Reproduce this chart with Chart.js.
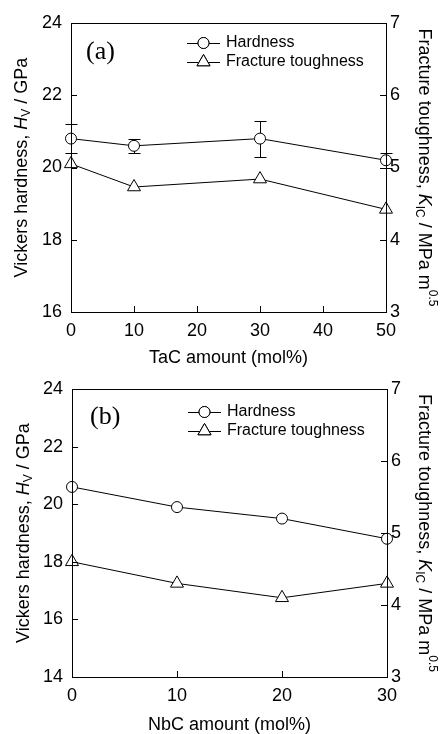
<!DOCTYPE html>
<html><head><meta charset="utf-8">
<script src="https://cdn.jsdelivr.net/npm/chart.js@4.4.1/dist/chart.umd.min.js"></script>
<style>body{margin:0;background:#fff}canvas{display:block}</style>
</head><body>
<canvas id="chart-a" width="441" height="367"></canvas>
<canvas id="chart-b" width="441" height="367"></canvas>
<script>
// ---- Data ----
const tacAmount = [0, 10, 30, 50];
const hardnessA = [20.8, 20.6, 20.8, 20.2];
const hardnessErrA = [0.4, 0.2, 0.5, 0.2];
const toughnessA = [5.05, 4.73, 4.84, 4.42];

const nbcAmount = [0, 10, 20, 30];
const hardnessB = [20.6, 19.9, 19.5, 18.8];
const toughnessB = [4.6, 4.3, 4.1, 4.3];

const seriesNames = ['Hardness', 'Fracture toughness'];

const SANS = '"Liberation Sans", Arial, sans-serif';
const SERIF = '"Liberation Serif", "Times New Roman", serif';

Chart.defaults.font.family = SANS;
Chart.defaults.font.size = 18;
Chart.defaults.color = '#000';

// ---- Helpers ----
// draw a run of text pieces (italic / sub / sup) centred on (cx, cy), rotated
function richText(ctx, parts, cx, cy, angle) {
  const fontOf = (p) => `${p.i ? 'italic ' : ''}${p.sub || p.sup ? 12 : 18}px ${SANS}`;
  ctx.save();
  ctx.translate(cx, cy);
  ctx.rotate(angle);
  ctx.textBaseline = 'middle';
  ctx.textAlign = 'left';
  let total = 0;
  parts.forEach((p) => { ctx.font = fontOf(p); p.w = ctx.measureText(p.t).width; total += p.w; });
  let x = -total / 2;
  parts.forEach((p) => {
    ctx.font = fontOf(p);
    ctx.fillText(p.t, x, p.sub ? 5 : p.sup ? -8 : 0);
    x += p.w;
  });
  ctx.restore();
}

const leftTitle = [{ t: 'Vickers hardness, ' }, { t: 'H', i: true }, { t: 'V', sub: true }, { t: ' / GPa' }];
const rightTitle = [{ t: 'Fracture toughness, ' }, { t: 'K', i: true }, { t: 'IC', sub: true },
  { t: ' / MPa m' }, { t: '0.5', sup: true }];

const markerOpts = [
  { pointStyle: 'circle', radius: 5.5, borderWidth: 1 },
  { pointStyle: 'triangle', radius: 7.5, borderWidth: 1 },
];

const decorations = {
  id: 'decorations',
  beforeDatasetsDraw(chart, args, o) {
    if (!o.errors) return;
    const { ctx } = chart;
    const xs = chart.scales.x, ys = chart.scales.y;
    ctx.save();
    ctx.strokeStyle = '#000';
    ctx.lineWidth = 1;
    o.xs.forEach((xv, i) => {
      const px = Math.round(xs.getPixelForValue(xv)) + 0.5;
      const top = Math.round(ys.getPixelForValue(o.values[i] + o.errors[i])) + 0.5;
      const bot = Math.round(ys.getPixelForValue(o.values[i] - o.errors[i])) + 0.5;
      ctx.beginPath();
      ctx.moveTo(px, top); ctx.lineTo(px, bot);
      ctx.moveTo(px - 6, top); ctx.lineTo(px + 6, top);
      ctx.moveTo(px - 6, bot); ctx.lineTo(px + 6, bot);
      ctx.stroke();
    });
    ctx.restore();
  },
  afterDraw(chart, args, o) {
    const { ctx, chartArea: a } = chart;
    ctx.save();
    ctx.strokeStyle = '#000';
    ctx.fillStyle = '#000';
    ctx.lineWidth = 1;
    // frame
    ctx.strokeRect(a.left + 0.5, a.top + 0.5, a.right - a.left, a.bottom - a.top);
    // inward ticks
    ctx.beginPath();
    chart.scales.x.ticks.forEach((t) => {
      const px = Math.round(chart.scales.x.getPixelForValue(t.value)) + 0.5;
      ctx.moveTo(px, a.bottom); ctx.lineTo(px, a.bottom - 6);
    });
    chart.scales.y.ticks.forEach((t) => {
      const py = Math.round(chart.scales.y.getPixelForValue(t.value)) + 0.5;
      ctx.moveTo(a.left, py); ctx.lineTo(a.left + 6, py);
    });
    chart.scales.y1.ticks.forEach((t) => {
      const py = Math.round(chart.scales.y1.getPixelForValue(t.value)) + 0.5;
      ctx.moveTo(a.right, py); ctx.lineTo(a.right - 6, py);
    });
    ctx.stroke();

    // axis titles
    const midY = (a.top + a.bottom) / 2;
    richText(ctx, leftTitle, o.leftTitleX, midY, -Math.PI / 2);
    richText(ctx, rightTitle, 424, midY, Math.PI / 2);
    ctx.font = `18px ${SANS}`;
    ctx.textAlign = 'center';
    ctx.textBaseline = 'middle';
    ctx.fillText(o.xTitle, (a.left + a.right) / 2, 358);

    // panel label
    ctx.font = `26px ${SERIF}`;
    ctx.textAlign = 'left';
    ctx.fillText(o.panel, o.panelX, o.panelY);

    // legend
    seriesNames.forEach((name, i) => {
      const y = o.legendY + i * 19;
      ctx.beginPath();
      ctx.moveTo(o.legendX, y + 0.5); ctx.lineTo(o.legendX + 33, y + 0.5);
      ctx.stroke();
      ctx.fillStyle = '#fff';
      Chart.helpers.drawPoint(ctx, { ...markerOpts[i], rotation: 0 }, o.legendX + 16.5, y);
      ctx.fill();
      ctx.stroke();
      ctx.fillStyle = '#000';
      ctx.font = `16px ${SANS}`;
      ctx.textAlign = 'left';
      ctx.fillText(name, o.legendX + 39, y);
    });
    ctx.restore();
  },
};

function makeChart(id, cfg) {
  const series = (ys) => cfg.xs.map((x, i) => ({ x, y: ys[i] }));
  const ds = (label, data, axis, m) => ({
    label, data: series(data), yAxisID: axis,
    borderColor: '#000', borderWidth: 1, tension: 0, clip: false,
    pointStyle: m.pointStyle, pointRadius: m.radius, pointHoverRadius: m.radius,
    pointBackgroundColor: '#fff', pointBorderColor: '#000', pointBorderWidth: 1,
  });
  return new Chart(document.getElementById(id), {
    type: 'line',
    data: { datasets: [
      ds(seriesNames[0], cfg.hard, 'y', markerOpts[0]),
      ds(seriesNames[1], cfg.tough, 'y1', markerOpts[1]),
    ] },
    options: {
      responsive: false, animation: false, devicePixelRatio: 1,
      layout: { padding: { top: cfg.top, left: 0, right: 0, bottom: 0 } },
      plugins: {
        legend: { display: false }, tooltip: { enabled: false },
        decorations: {
          xs: cfg.xs, values: cfg.hard, errors: cfg.err, xTitle: cfg.xTitle,
          panel: cfg.panel, panelX: cfg.panelX, panelY: cfg.panelY,
          legendX: cfg.legendX, legendY: cfg.legendY, leftTitleX: cfg.leftTitleX,
        },
      },
      scales: {
        x: {
          type: 'linear', min: 0, max: cfg.xMax,
          ticks: { stepSize: 10, padding: 8, maxRotation: 0 },
          grid: { display: false, drawTicks: false }, border: { display: false },
          afterFit: (s) => { s.height = cfg.xAxisH; },
        },
        y: {
          position: 'left', min: cfg.yMin, max: 24,
          ticks: { stepSize: 2, padding: 9 },
          grid: { display: false, drawTicks: false }, border: { display: false },
          afterFit: (s) => { s.width = cfg.left; },
        },
        y1: {
          position: 'right', min: 3, max: 7,
          ticks: { stepSize: 1, padding: 4 },
          grid: { display: false, drawTicks: false }, border: { display: false },
          afterFit: (s) => { s.width = cfg.rightW; },
        },
      },
    },
    plugins: [decorations],
  });
}

makeChart('chart-a', {
  xs: tacAmount, hard: hardnessA, err: hardnessErrA, tough: toughnessA,
  xMax: 50, yMin: 16, xTitle: 'TaC amount (mol%)', panel: '(a)',
  top: 23, xAxisH: 55, left: 71, rightW: 55,
  panelX: 86, panelY: 52, legendX: 187, legendY: 43, leftTitleX: 22,
});

makeChart('chart-b', {
  xs: nbcAmount, hard: hardnessB, err: null, tough: toughnessB,
  xMax: 30, yMin: 14, xTitle: 'NbC amount (mol%)', panel: '(b)',
  top: 22, xAxisH: 57, left: 72, rightW: 54,
  panelX: 90, panelY: 50, legendX: 188, legendY: 45, leftTitleX: 24,
});
</script>
</body></html>
